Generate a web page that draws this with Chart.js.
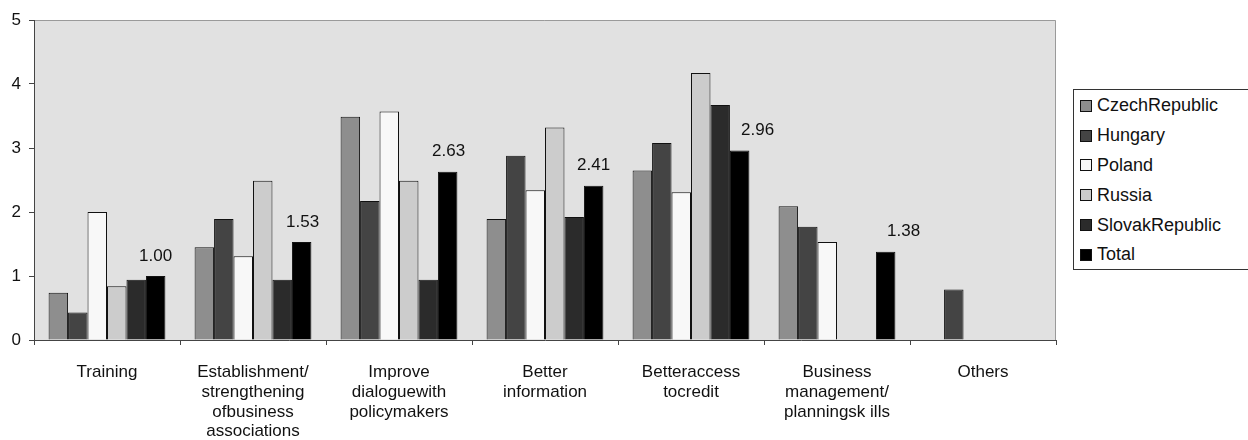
<!DOCTYPE html>
<html>
<head>
<meta charset="utf-8">
<script src="https://cdn.jsdelivr.net/npm/chart.js@4/dist/chart.umd.min.js"></script>
<style>
  html, body { margin: 0; padding: 0; background: #ffffff; }
  #wrap { position: relative; width: 1248px; height: 440px; overflow: hidden; }
  #legend {
    position: absolute; left: 1073px; top: 89px; width: 176px; height: 181px;
    box-sizing: border-box; border: 1px solid #333; background: #fff;
    padding: 1px 0 0 6px; font-family: "Liberation Sans", Arial, sans-serif;
    font-size: 18px; color: #111;
  }
  #legend .item { height: 29.8px; display: flex; align-items: center; white-space: nowrap; }
  #legend .sw { width: 12px; height: 12px; box-sizing: border-box; border: 1px solid #111; margin-right: 5px; flex: none; }
</style>
</head>
<body>
<div id="wrap">
  <canvas id="c" width="1248" height="440"></canvas>
  <div id="legend"></div>
</div>
<script>
// Categories (x-axis labels, multi-line where wrapped)
const categories = [
  'Training',
  ['Establishment/', 'strengthening', 'ofbusiness', 'associations'],
  ['Improve', 'dialoguewith', 'policymakers'],
  ['Better', 'information'],
  ['Betteraccess', 'tocredit'],
  ['Business', 'management/', 'planningsk ills'],
  'Others'
];

// Series names
const seriesNames = ['CzechRepublic', 'Hungary', 'Poland', 'Russia', 'SlovakRepublic', 'Total'];

// Series values (null = no bar)
const czechValues   = [0.74, 1.45, 3.49, 1.89, 2.65, 2.09, null];
const hungaryValues = [0.43, 1.89, 2.17, 2.88, 3.08, 1.77, 0.79];
const polandValues  = [2.00, 1.31, 3.57, 2.34, 2.31, 1.53, null];
const russiaValues  = [0.84, 2.49, 2.49, 3.32, 4.17, null, null];
const slovakValues  = [0.94, 0.94, 0.94, 1.92, 3.67, null, null];
const totalValues   = [1.00, 1.53, 2.63, 2.41, 2.96, 1.38, null];

// Y-axis tick values
const yTicks = [0, 1, 2, 3, 4, 5];

const seriesValues = [czechValues, hungaryValues, polandValues, russiaValues, slovakValues, totalValues];
const seriesColors = ['#8e8e8e', '#444444', '#f8f8f8', '#cccccc', '#2b2b2b', '#000000'];

const FONT = '"Liberation Sans", Arial, sans-serif';
const TEXT = '#111111';

// Grey plot background with a thin frame on top and right
const plotBackground = {
  id: 'plotBackground',
  beforeDraw(chart) {
    const { ctx, chartArea: a } = chart;
    ctx.save();
    ctx.fillStyle = '#e1e1e1';
    ctx.fillRect(a.left, a.top, a.right - a.left, a.bottom - a.top);
    ctx.strokeStyle = '#9a9a9a';
    ctx.lineWidth = 1;
    ctx.beginPath();
    ctx.moveTo(a.left, a.top + 0.5);
    ctx.lineTo(a.right - 0.5, a.top + 0.5);
    ctx.lineTo(a.right - 0.5, a.bottom);
    ctx.stroke();
    ctx.restore();
  }
};

// Value labels above the Total bars
const totalLabels = {
  id: 'totalLabels',
  afterDatasetsDraw(chart, args, opts) {
    const idx = chart.data.datasets.length - 1;
    const meta = chart.getDatasetMeta(idx);
    const values = chart.data.datasets[idx].data;
    const { ctx } = chart;
    ctx.save();
    ctx.font = '17px ' + FONT;
    ctx.fillStyle = TEXT;
    ctx.textAlign = 'center';
    ctx.textBaseline = 'middle';
    meta.data.forEach((bar, i) => {
      const v = values[i];
      if (v === null || v === undefined) return;
      const nudge = (opts.nudge && opts.nudge[i]) || 0;
      ctx.fillText(v.toFixed(2), bar.x + nudge, bar.y - 20);
    });
    ctx.restore();
  }
};

const chart = new Chart(document.getElementById('c'), {
  type: 'bar',
  data: {
    labels: categories,
    datasets: seriesNames.map((name, i) => ({
      label: name,
      data: seriesValues[i],
      backgroundColor: seriesColors[i],
      borderColor: '#111111',
      borderWidth: 1,
      categoryPercentage: 0.8,
      barPercentage: 1.0
    }))
  },
  options: {
    responsive: false,
    animation: false,
    devicePixelRatio: 1,
    layout: { padding: { left: 0, right: 192, top: 20, bottom: 0 } },
    plugins: {
      legend: { display: false },
      tooltip: { enabled: false },
      totalLabels: { nudge: [0, 1, 1, 0, 18, 18, 0] }
    },
    scales: {
      x: {
        offset: true,
        grid: { offset: true, drawOnChartArea: false, drawTicks: true, tickLength: 5, color: '#444' },
        border: { color: '#444', width: 1 },
        ticks: {
          autoSkip: false, maxRotation: 0, minRotation: 0, padding: 18,
          color: TEXT, font: { family: FONT, size: 17, lineHeight: 1.15 }
        },
        afterFit(scale) { scale.height = 100; }
      },
      y: {
        min: 0, max: 5,
        afterBuildTicks(scale) { scale.ticks = yTicks.map(v => ({ value: v })); },
        grid: { drawOnChartArea: false, drawTicks: true, tickLength: 5, color: '#444' },
        border: { color: '#444', width: 1 },
        ticks: { padding: 8, color: TEXT, font: { family: FONT, size: 17 } },
        afterFit(scale) { scale.width = 34; }
      }
    }
  },
  plugins: [plotBackground, totalLabels]
});

// Legend box on the right
const legend = document.getElementById('legend');
seriesNames.forEach((name, i) => {
  const item = document.createElement('div');
  item.className = 'item';
  const sw = document.createElement('span');
  sw.className = 'sw';
  sw.style.background = seriesColors[i];
  const label = document.createElement('span');
  label.textContent = name;
  item.appendChild(sw);
  item.appendChild(label);
  legend.appendChild(item);
});
</script>
</body>
</html>
